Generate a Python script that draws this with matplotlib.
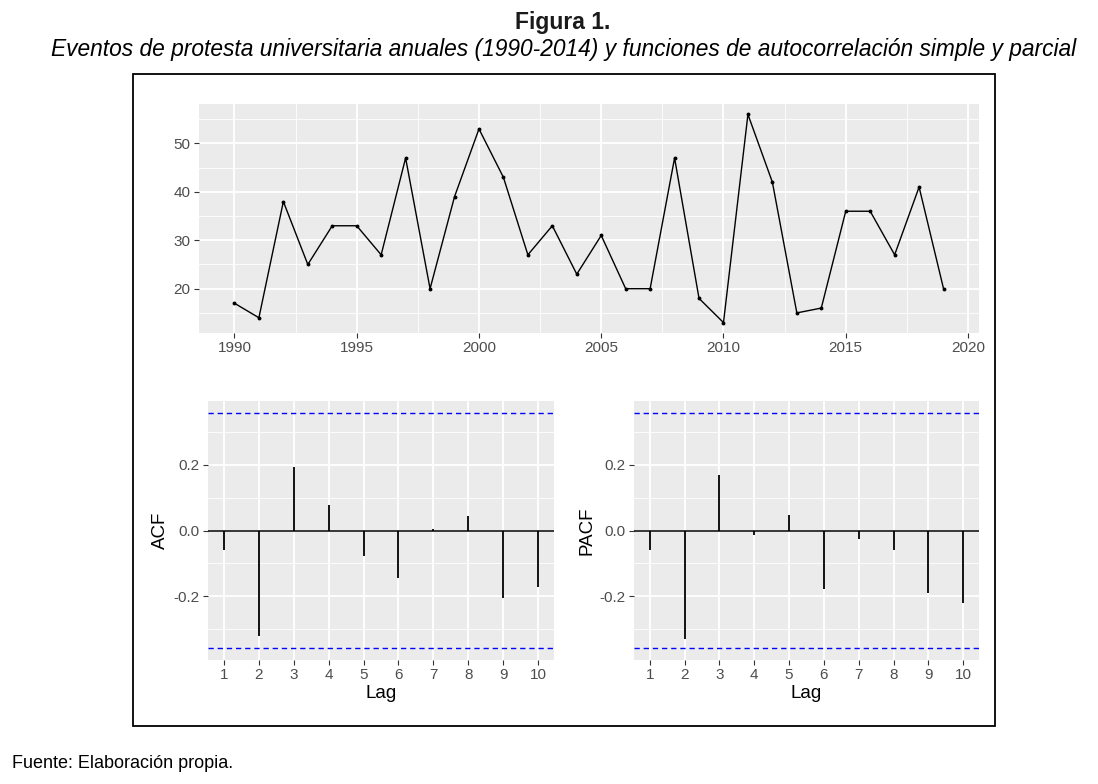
import matplotlib
matplotlib.use("Agg")
import matplotlib.pyplot as plt
from matplotlib.patches import Rectangle
import numpy as np

plt.rcParams['font.family'] = ['Liberation Sans', 'DejaVu Sans']

# ---- data ----
years = list(range(1990, 2020))
events = [17, 14, 38, 25, 33, 33, 27, 47, 20, 39, 53, 43, 27, 33, 23, 31,
          20, 20, 47, 18, 13, 56, 42, 15, 16, 36, 36, 27, 41, 20]
lags = list(range(1, 11))
acf_vals = [-0.058, -0.320, 0.193, 0.077, -0.079, -0.143, 0.005, 0.045, -0.206, -0.173]
pacf_vals = [-0.058, -0.331, 0.169, -0.014, 0.046, -0.179, -0.027, -0.058, -0.190, -0.222]
n_obs = len(events)
ci = 1.96 / np.sqrt(n_obs)

title = "Figura 1."
subtitle = "Eventos de protesta universitaria anuales (1990-2014) y funciones de autocorrelación simple y parcial"
footer = "Fuente: Elaboración propia."

W, H = 1098, 784
fig = plt.figure(figsize=(W / 100, H / 100), dpi=100)

def ax_px(l, t, r, b):
    return fig.add_axes([l / W, 1 - b / H, (r - l) / W, (b - t) / H])

BG = '#EBEBEB'
TICKC = '#4D4D4D'

def style(ax):
    ax.set_facecolor(BG)
    for s in ax.spines.values():
        s.set_visible(False)
    ax.grid(True, which='major', color='white', linewidth=1.3)
    ax.grid(True, which='minor', color='white', linewidth=0.6)
    ax.set_axisbelow(True)
    ax.tick_params(which='major', length=3.6, width=0.8, color='#333333',
                   labelcolor=TICKC, labelsize=11, pad=2.5)
    ax.tick_params(which='minor', length=0)

# ---- top time series ----
ax1 = ax_px(199, 104, 979, 333)
style(ax1)
ax1.plot(years, events, color='black', linewidth=1.0)
ax1.plot(years, events, 'o', color='black', markersize=1.8)
ax1.set_xlim(1988.55, 2020.45)
ax1.set_ylim(10.85, 58.15)
ax1.set_xticks([1990, 1995, 2000, 2005, 2010, 2015, 2020])
ax1.set_xticks(np.arange(1992.5, 2020, 5), minor=True)
ax1.set_yticks([20, 30, 40, 50])
ax1.set_yticks([15, 25, 35, 45, 55], minor=True)

def corr_panel(ax, vals, ylabel):
    style(ax)
    ax.axhline(0, color='black', linewidth=1.1, zorder=2)
    ax.vlines(lags, 0, vals, color='black', linewidth=1.3, zorder=3)
    ax.axhline(ci, color='#0000FF', linewidth=1.0, dashes=(3.8, 2.8), zorder=3)
    ax.axhline(-ci, color='#0000FF', linewidth=1.0, dashes=(3.8, 2.8), zorder=3)
    ax.set_xlim(0.55, 10.45)
    ax.set_ylim(-0.394, 0.394)
    ax.set_xticks(lags)
    ax.set_yticks([-0.2, 0.0, 0.2])
    ax.set_yticklabels(['-0.2', '0.0', '0.2'])
    ax.set_yticks([-0.3, -0.1, 0.1, 0.3], minor=True)
    ax.set_xlabel('Lag', fontsize=13.5, labelpad=2)
    ax.set_ylabel(ylabel, fontsize=13.5, labelpad=3)

ax2 = ax_px(208, 401, 554, 660)
corr_panel(ax2, acf_vals, 'ACF')
ax3 = ax_px(634, 401, 979, 660)
corr_panel(ax3, pacf_vals, 'PACF')

# ---- frame around the plots ----
fig.patches.append(Rectangle((133 / W, 1 - 726 / H), (995 - 133) / W, (726 - 74) / H,
                             transform=fig.transFigure, fill=False,
                             edgecolor='black', linewidth=1.3))

# ---- texts ----
fig.text(563 / W, 1 - 29 / H, title, ha='center', va='baseline',
         fontsize=16.5, fontweight='bold', color='#1a1a1a')
fig.text(564 / W, 1 - 56 / H, subtitle, ha='center', va='baseline',
         fontsize=16.4, fontstyle='italic', color='black')
fig.text(12 / W, 1 - 768 / H, footer, ha='left', va='baseline',
         fontsize=13, color='black')

fig.savefig('out.png', dpi=100)
